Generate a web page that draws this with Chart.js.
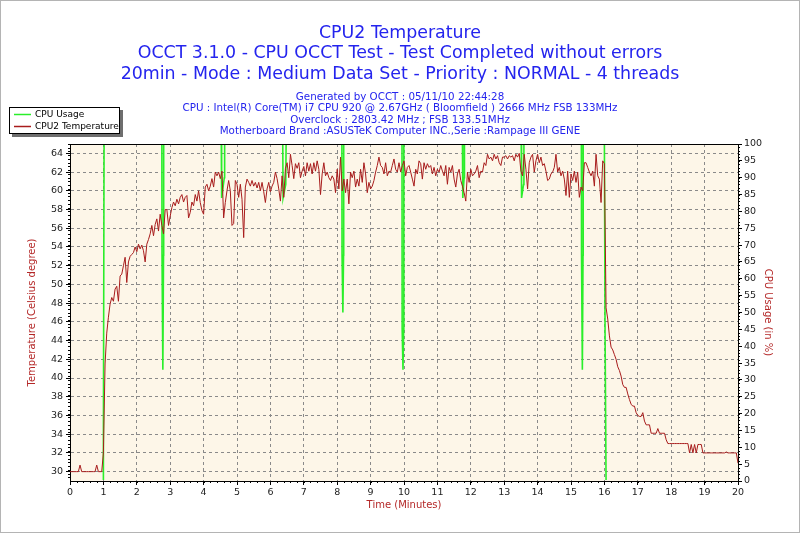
<!DOCTYPE html>
<html>
<head>
<meta charset="utf-8">
<title>CPU2 Temperature</title>
<script src="https://cdn.jsdelivr.net/npm/chart.js@4.4.0/dist/chart.umd.min.js"></script>
<style>
  html, body { margin: 0; padding: 0; background: #fff; }
  #wrap { width: 800px; height: 533px; }
</style>
</head>
<body>
<div id="wrap"><canvas id="chart" width="800" height="533"></canvas></div>
<script>
// --- data ---
const titleLines = [
    'CPU2 Temperature',
    'OCCT 3.1.0 - CPU OCCT Test - Test Completed without errors',
    '20min - Mode : Medium Data Set - Priority : NORMAL - 4 threads'
];
const infoLines = [
    'Generated by OCCT : 05/11/10 22:44:28',
    'CPU : Intel(R) Core(TM) i7 CPU 920 @ 2.67GHz ( Bloomfield ) 2666 MHz FSB 133MHz',
    'Overclock : 2803.42 MHz ; FSB 133.51MHz',
    'Motherboard Brand :ASUSTeK Computer INC.,Serie :Rampage III GENE'
];

const timeTicks = [0, 1, 2, 3, 4, 5, 6, 7, 8, 9, 10, 11, 12, 13, 14, 15, 16, 17, 18, 19, 20];
const tempTicks = [30, 32, 34, 36, 38, 40, 42, 44, 46, 48, 50, 52, 54, 56, 58, 60, 62, 64];
const cpuTicks = [0, 5, 10, 15, 20, 25, 30, 35, 40, 45, 50, 55, 60, 65, 70, 75, 80, 85, 90, 95, 100];

// CPU usage samples (minutes, %)
const cpuTimes = [0, 0.99, 1.0, 1.02,
    2.75, 2.755, 2.78, 2.80, 2.805,
    4.53, 4.54, 4.62, 4.63,
    6.37, 6.38, 6.46, 6.47,
    8.14, 8.145, 8.17, 8.19, 8.195,
    9.94, 9.945, 9.97, 9.99, 9.995,
    11.75, 11.76, 11.80, 11.81,
    13.51, 13.52, 13.58, 13.59,
    15.31, 15.315, 15.34, 15.36, 15.365,
    16.0, 16.02, 16.05, 20];
const cpuValues = [0, 0, 12, 100,
    100, 67, 33, 67, 100,
    100, 84, 90, 100,
    100, 84, 88, 100,
    100, 67, 50, 67, 100,
    100, 45, 33, 45, 100,
    100, 84, 90, 100,
    100, 84, 88, 100,
    100, 67, 33, 67, 100,
    100, 44, 0, 0];

// CPU2 temperature, one sample every 0.05 min (one row per minute)
const tempStep = 0.05;
const tempValues = [
    30, 30, 30, 30, 30, 30, 30.7, 30, 30, 30, 30, 30, 30, 30, 30, 30, 30.7, 30, 30, 30,
    32, 41.5, 44.8, 46.5, 47.9, 48.6, 48.2, 49.5, 49.8, 48.2, 50.9, 51.1, 52, 52.9, 50.2, 52.4, 53, 53.2, 53.4, 54,
    53.5, 54.3, 53.8, 54.2, 53.6, 52.4, 54.3, 54.8, 55.4, 56.3, 55.2, 56.4, 57, 55.7, 57.5, 56.3, 55.4, 58, 58, 56.3,
    57.3, 58.2, 58.8, 58.4, 59.1, 58.6, 59.3, 59.6, 58.8, 59.3, 59.5, 57.1, 57.7, 58.8, 58.4, 59.6, 58.9, 60, 58.75, 57.9,
    57.5, 60.4, 60.7, 60, 60.5, 61.3, 60.4, 62, 61.6, 62, 61.3, 62.1, 57.1, 58.75, 60, 61.1, 60, 56.3, 56.5, 61.1,
    60.7, 59.3, 60.7, 59.1, 55, 60.4, 61.25, 60.9, 60.5, 61.1, 60.5, 60.9, 60.3, 60.9, 60, 60.9, 59.9, 58.75, 60.2, 60.9,
    59.9, 60.5, 60.9, 62, 61.3, 60.2, 58.9, 61.6, 59.3, 62.4, 63, 61.4, 63.9, 62.7, 61.3, 62.9, 62.4, 63, 61.4, 62.1,
    62.6, 61.6, 63, 62.1, 62.9, 61.8, 63, 62.1, 63.2, 62.3, 59.6, 61.8, 63, 61.6, 62, 61.4, 61.1, 61.6, 61.25, 59.8,
    62.3, 60.2, 63.6, 60, 61.25, 59.8, 61.25, 58.6, 62, 61.4, 62.1, 60.4, 61.25, 60.5, 62.3, 60.9, 63, 61.8, 59.8, 60.9,
    60.2, 60.5, 61.1, 62, 62.7, 63.6, 62.7, 62.5, 61.8, 63, 61.6, 62.1, 62, 62.7, 63.4, 62.3, 62, 63, 62, 62.7,
    63.2, 61.6, 62.5, 62.7, 62, 61.25, 60.5, 62.3, 61.8, 63.2, 62.9, 61.25, 63, 62.3, 62.9, 62.5, 62.7, 61.8, 62.5, 61.6,
    62.3, 62, 62.7, 62.1, 61.6, 62.7, 60.7, 62.5, 62, 62.7, 61.25, 60.4, 61.8, 62.3, 61.1, 60.5, 59.8, 58.9, 62, 60.9,
    62.3, 61.6, 61.8, 62.1, 62.7, 61.4, 62.1, 62, 63, 62.7, 63.9, 63.4, 63.6, 63.2, 63.9, 63.4, 63.75, 63, 62.7, 63.6,
    63.6, 63.75, 63.4, 63.75, 63.6, 63.75, 63.2, 63.9, 63.6, 64, 62.1, 61.6, 63.9, 62.3, 60.2, 63, 63.6, 63.9, 62, 63.2,
    63.9, 63, 63.6, 62.7, 62.9, 62.1, 61.1, 61.25, 61.8, 62, 62.5, 63.9, 62, 62.5, 61.6, 62.1, 61.25, 59.5, 62.1, 59.3,
    61.8, 61.1, 62.1, 60.9, 62, 59.3, 60.4, 60, 63, 63, 62.5, 62, 61.6, 62.1, 60.5, 63.9, 61.6, 61.25, 58.75, 63.2,
    62.9, 47.5, 46.3, 44.5, 43.3, 43, 42.5, 42, 41.2, 40.8, 40.2, 39.3, 39, 39, 38.3, 37.7, 37.2, 37, 37, 36.3,
    36, 35.9, 35.9, 36.3, 35.4, 35, 35, 35, 34.1, 34.1, 34.1, 34.1, 34.6, 34.1, 34.1, 34.1, 34.1, 33.4, 33, 33,
    33, 33, 33, 33, 33, 33, 33, 33, 33, 33, 33, 32, 32.9, 32, 32.9, 32, 32.9, 32.9, 32.9, 32,
    32, 32, 32, 32, 32, 32, 32, 32, 32, 32, 32, 32, 32, 32.1, 32, 32, 32, 32, 32, 32,
    30.9
];

const FONT = "'DejaVu Sans', Verdana, sans-serif";
const BLUE = '#2424ee';
const AXIS_RED = '#b42828';

// draws the header texts, the boxed legend, the cream plot area and minor ticks
const occtDecor = {
    id: 'occtDecor',
    beforeDraw(chart) {
        const { ctx, chartArea: a } = chart;
        ctx.save();
        ctx.fillStyle = '#fff';
        ctx.fillRect(0, 0, chart.width, chart.height);
        ctx.fillStyle = '#fdf6e8';
        ctx.fillRect(a.left, a.top, a.right - a.left, a.bottom - a.top);
        ctx.restore();
    },
    afterDraw(chart) {
        const { ctx, chartArea: a } = chart;
        ctx.save();

        ctx.fillStyle = BLUE;
        ctx.textAlign = 'center';
        ctx.textBaseline = 'middle';
        ctx.font = '17.4px ' + FONT;
        titleLines.forEach((line, i) => ctx.fillText(line, 400, 33 + i * 20.5));
        ctx.font = '10.3px ' + FONT;
        infoLines.forEach((line, i) => ctx.fillText(line, 400, 97 + i * 11.5));

        // legend box with shadow
        ctx.fillStyle = '#6e6e6e';
        ctx.fillRect(12, 110, 111, 27);
        ctx.fillStyle = '#fff';
        ctx.fillRect(9, 107, 111, 27);
        ctx.strokeStyle = '#000';
        ctx.lineWidth = 1;
        ctx.strokeRect(9.5, 107.5, 110, 26);
        ctx.font = '9px ' + FONT;
        ctx.textAlign = 'left';
        chart.data.datasets.forEach((ds, i) => {
            const y = 114.5 + i * 12;
            ctx.strokeStyle = ds.borderColor;
            ctx.lineWidth = 1.5;
            ctx.beginPath();
            ctx.moveTo(14, y);
            ctx.lineTo(31, y);
            ctx.stroke();
            ctx.fillStyle = '#000';
            ctx.fillText(ds.label, 35, y);
        });

        // top edge of the plot frame
        ctx.strokeStyle = '#000';
        ctx.lineWidth = 1;
        ctx.beginPath();
        ctx.moveTo(a.left, a.top + 0.5);
        ctx.lineTo(a.right, a.top + 0.5);
        ctx.stroke();

        // minor tick marks
        const sx = chart.scales.x, sl = chart.scales.yTemp, sr = chart.scales.yCpu;
        ctx.beginPath();
        for (let v = 0; v <= 20.001; v += 0.2) {
            const px = Math.round(sx.getPixelForValue(v)) + 0.5;
            ctx.moveTo(px, a.bottom);
            ctx.lineTo(px, a.bottom + 2);
        }
        for (let v = 29.4; v <= 65; v += 0.4) {
            const py = Math.round(sl.getPixelForValue(v)) + 0.5;
            ctx.moveTo(a.left - 2, py);
            ctx.lineTo(a.left, py);
        }
        for (let v = 0; v <= 100; v += 1) {
            const py = Math.round(sr.getPixelForValue(v)) + 0.5;
            ctx.moveTo(a.right, py);
            ctx.lineTo(a.right + 2, py);
        }
        ctx.stroke();

        // outer frame of the picture
        ctx.strokeStyle = '#b4b4b4';
        ctx.strokeRect(0.5, 0.5, chart.width - 1, chart.height - 1);
        ctx.restore();
    }
};

const tickFont = { family: FONT, size: 9.5 };
const titleFont = { family: FONT, size: 10 };

new Chart(document.getElementById('chart'), {
    type: 'line',
    data: {
        datasets: [{
            label: 'CPU Usage',
            data: cpuTimes.map((t, i) => ({ x: t, y: cpuValues[i] })),
            yAxisID: 'yCpu',
            borderColor: '#2aee2a',
            borderWidth: 1.6,
            pointRadius: 0,
            tension: 0,
            clip: { left: 0, top: -1, right: 0, bottom: -1 },
            order: 1
        }, {
            label: 'CPU2 Temperature',
            data: tempValues.map((v, i) => ({ x: i * tempStep, y: v })),
            yAxisID: 'yTemp',
            borderColor: '#a81c1c',
            borderWidth: 1,
            pointRadius: 0,
            tension: 0,
            order: 0
        }]
    },
    options: {
        responsive: false,
        devicePixelRatio: 1,
        animation: false,
        layout: { padding: { top: 144, left: 0, right: 0, bottom: 0 } },
        plugins: {
            legend: { display: false },
            title: { display: false },
            tooltip: { enabled: false }
        },
        scales: {
            x: {
                type: 'linear',
                min: 0,
                max: 20,
                afterBuildTicks: s => { s.ticks = timeTicks.map(v => ({ value: v })); },
                afterFit: s => { s.height = 52; },
                grid: {
                    color: c => (c.tick && (c.tick.value === 0 || c.tick.value === 20)) ? 'rgba(0,0,0,0)' : '#8a8a8a',
                    tickLength: 4,
                    tickColor: '#000'
                },
                border: { color: '#000', width: 1, dash: [3, 3] },
                ticks: { color: '#222', font: tickFont, padding: 2, maxRotation: 0, autoSkip: false },
                title: { display: true, text: 'Time (Minutes)', color: AXIS_RED, font: titleFont, padding: { top: 0, bottom: 22 } }
            },
            yTemp: {
                type: 'linear',
                position: 'left',
                min: 29,
                max: 65,
                afterBuildTicks: s => { s.ticks = tempTicks.map(v => ({ value: v })); },
                afterFit: s => { s.width = 70; },
                grid: { color: '#8a8a8a', tickLength: 4, tickColor: '#000' },
                border: { color: '#000', width: 1, dash: [3, 3] },
                ticks: { color: '#222', font: tickFont, padding: 3, autoSkip: false },
                title: { display: true, text: 'Temperature (Celsius degree)', color: AXIS_RED, font: titleFont, padding: { top: 26, bottom: 0 } }
            },
            yCpu: {
                type: 'linear',
                position: 'right',
                min: 0,
                max: 100,
                afterBuildTicks: s => { s.ticks = cpuTicks.map(v => ({ value: v })); },
                afterFit: s => { s.width = 62; },
                grid: { drawOnChartArea: false, tickLength: 4, tickColor: '#000' },
                border: { color: '#000', width: 1 },
                ticks: { color: '#222', font: tickFont, padding: 2, autoSkip: false },
                title: { display: true, text: 'CPU Usage (in %)', color: AXIS_RED, font: titleFont, padding: { top: 26, bottom: 0 } }
            }
        }
    },
    plugins: [occtDecor]
});
</script>
</body>
</html>
